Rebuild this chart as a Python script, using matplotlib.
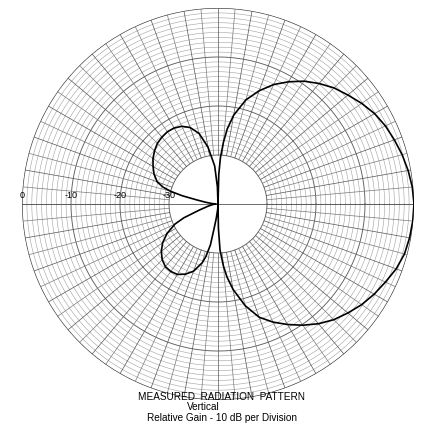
import numpy as np
import matplotlib
matplotlib.use('Agg')
import matplotlib.pyplot as plt

plt.rcParams['font.family'] = ['Liberation Sans', 'DejaVu Sans']

# measured pattern: angle in degrees (0 = right, ccw), relative gain in dB
pattern_deg = [-180, -175, -168, -162, -158, -155, -150, -145, -140, -135,
               -130, -125, -120, -115, -110, -105, -103, -100.5, -99, -97,
               -93, -90, -89, -87.5, -85, -83, -80, -75, -70, -65, -60,
               -55, -50, -45, -40, -35, -30, -25, -20, -15, -10, -5,
               0, 5, 10, 15, 20, 25, 30, 35, 40, 45, 50, 55, 60, 65, 70,
               75, 80, 83, 85, 87, 88.5, 90, 92, 95, 100, 105, 110, 115,
               120, 125, 130, 135, 140, 145, 150, 155, 160, 163, 165, 167,
               169, 172, 176, 180]
pattern_db = [-39.5, -39, -38, -36, -32.5, -30.3, -28.0, -26.2, -24.9, -23.9,
              -23.3, -23.2, -23.4, -24.2, -25.4, -27.6, -29, -31.5, -35, -37,
              -39, -40, -35, -30.6, -27.3, -25, -22.3, -18.5, -15.4, -13.4,
              -11.6, -9.8, -8.1, -6.6, -5.4, -4.2, -3.2, -2.3, -1.3, -0.6,
              -0.3, -0.1,
              0, -0.2, -0.6, -1.1, -1.7, -2.3, -3.1, -4.2, -5.4, -6.5, -7.9,
              -9.4, -11.2, -13.1, -15.4, -18.0, -21.6, -24.6, -27.4, -30.5,
              -34, -40, -36.5, -32.2, -28.2, -25.1, -23.4, -22.5, -22.1,
              -22.0, -22.2, -22.5, -23.1, -23.8, -24.7, -25.6, -26.8, -28.3,
              -30.0, -32.5, -35.5, -37.5, -38.8, -39.5]

ring_values = [0, -10, -20, -30]
ring_labels = ['0', '-10', '-20', '-30']

title_lines = ['MEASURED  RADIATION  PATTERN', 'Vertical',
               'Relative Gain - 10 dB per Division']

W, H = 422, 424
fig = plt.figure(figsize=(W / 100, H / 100), dpi=100)
cx, cy, R = 218, 204, 196
ax = fig.add_axes([(cx - R) / W, (H - cy - R) / H, 2 * R / W, 2 * R / H],
                  projection='polar')
ax.set_ylim(-40, 0)
ax.grid(False)
ax.set_xticks([])
ax.set_yticks([])
ax.spines['polar'].set_visible(False)

# grid: 1 dB rings, darker every 10 dB
th = np.linspace(0, 2 * np.pi, 721)
for d in range(-30, 1):
    if d == 0:
        ax.plot(th, np.full_like(th, d), color='#333333', lw=0.9, zorder=2)
    elif d % 10 == 0:
        ax.plot(th, np.full_like(th, d), color='#5e5e5e', lw=0.65, zorder=2)
    else:
        ax.plot(th, np.full_like(th, d), color='#a0a0a0', lw=0.4, zorder=1)

# spokes every 5 deg
for a in range(0, 360, 5):
    t = np.deg2rad(a)
    col = '#555555' if a % 10 == 0 else '#7a7a7a'
    ax.plot([t, t], [-30, 0], color=col, lw=0.5, zorder=2)

# horizontal diameter through the centre
ax.plot([0, 0], [-40, 0], color='#555555', lw=0.6, zorder=2)
ax.plot([np.pi, np.pi], [-40, 0], color='#555555', lw=0.6, zorder=2)

# pattern
ax.plot(np.deg2rad(pattern_deg), pattern_db, color='black', lw=1.2,
        zorder=5, solid_joinstyle='round')

# ring labels on the left
for v, lab in zip(ring_values, ring_labels):
    px = cx - R * (v + 40) / 40
    fig.text(px / W, 1 - 195 / H, lab, ha='center', va='center',
             fontsize=6.5, zorder=6)

fig.text(222 / W, 1 - 397 / H, title_lines[0], ha='center', va='center',
         fontsize=7.2)
fig.text(203 / W, 1 - 407.5 / H, title_lines[1], ha='center', va='center',
         fontsize=7.2)
fig.text(222 / W, 1 - 418 / H, title_lines[2], ha='center', va='center',
         fontsize=7.2)

fig.savefig('out.png', dpi=100)
